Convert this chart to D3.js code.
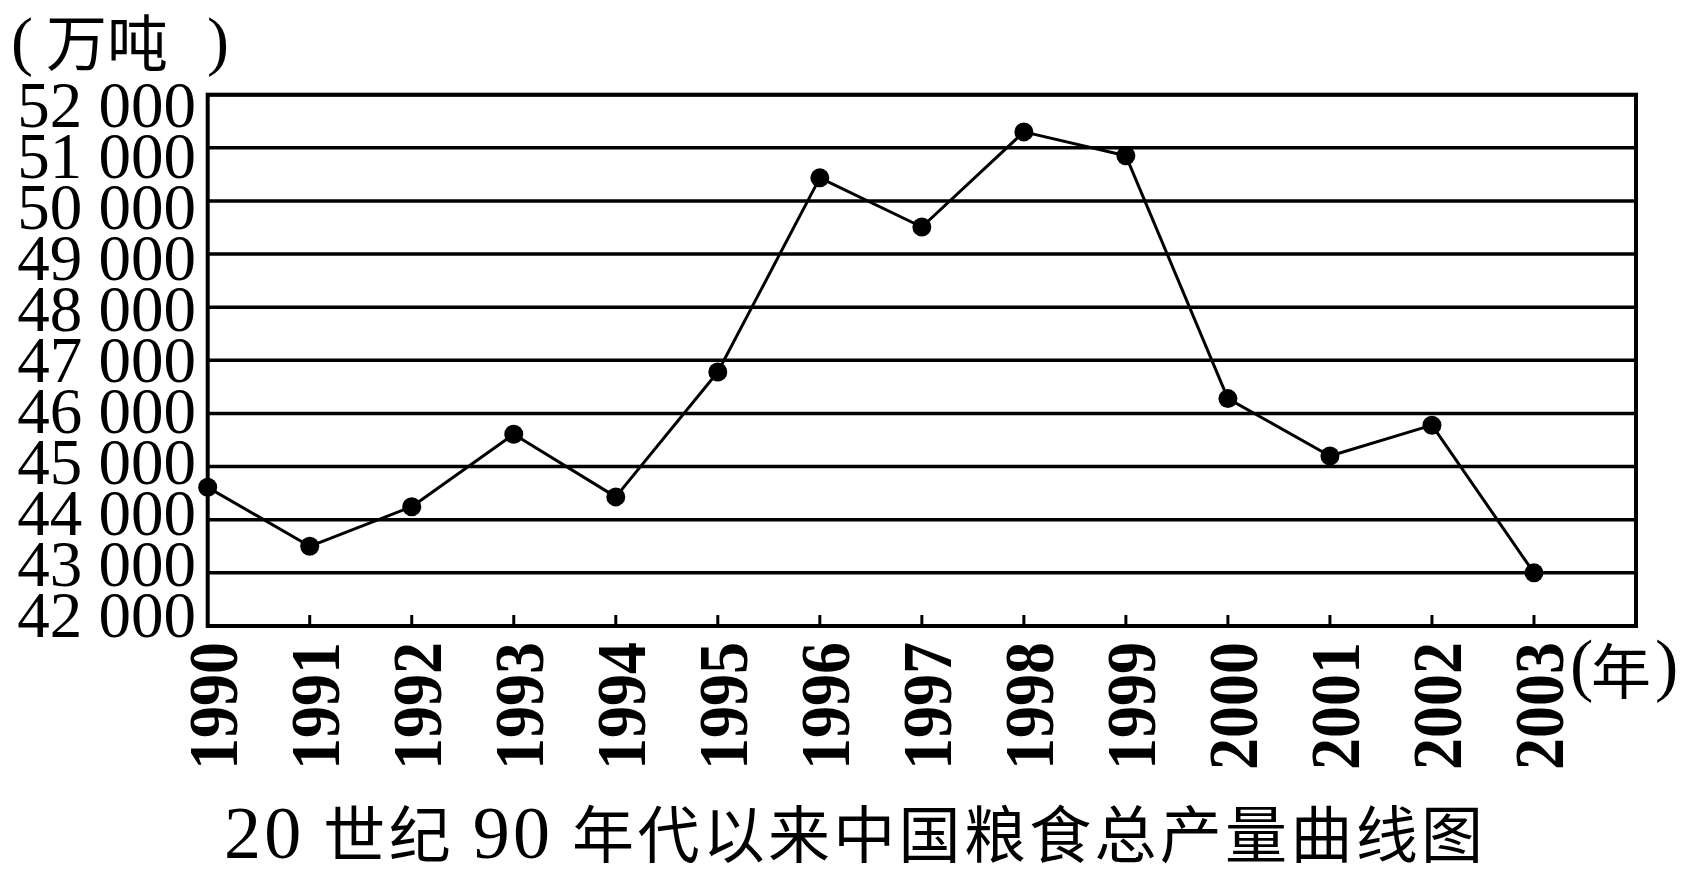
<!DOCTYPE html>
<html>
<head>
<meta charset="utf-8">
<script src="https://cdn.jsdelivr.net/npm/d3@7"></script>
<style>
  html, body { margin: 0; padding: 0; background: #fff; }
  svg { display: block; }
</style>
</head>
<body>
<svg id="chart"></svg>
<script>
// data
const years = [1990, 1991, 1992, 1993, 1994, 1995, 1996, 1997, 1998, 1999, 2000, 2001, 2002, 2003];
const output = [44610, 43500, 44245, 45610, 44430, 46780, 50435, 49510, 51300, 50850, 46280, 45200, 45780, 43000];
const yTicks = [42000, 43000, 44000, 45000, 46000, 47000, 48000, 49000, 50000, 51000, 52000];
const yTickLabels = ["42 000", "43 000", "44 000", "45 000", "46 000", "47 000", "48 000", "49 000", "50 000", "51 000", "52 000"];
const yearLabels = ["1990", "1991", "1992", "1993", "1994", "1995", "1996", "1997", "1998", "1999", "2000", "2001", "2002", "2003"];
const unitText = "万吨";
const yearUnitText = "年";
// title split so the numbers can be set a bit taller, like the original
const titleParts = ["20", " 世纪 ", "90", " 年代以来中国粮食总产量曲线图"];

const width = 1687;
const height = 874;
const plot = { left: 207.7, right: 1636, top: 94.7, bottom: 626 };
const serif = "'Liberation Serif', 'Noto Sans CJK SC', serif";
const cjk = "'Noto Sans CJK SC', sans-serif";

const svg = d3.select("#chart")
  .attr("width", width)
  .attr("height", height)
  .style("background", "#fff");

const x = d3.scaleLinear().domain([1990, 2004]).range([plot.left, plot.right]);
const y = d3.scaleLinear().domain([42000, 52000]).range([plot.bottom, plot.top]);
// the tick labels are stacked a bit tighter than the gridlines
const yLabel = d3.scaleLinear().domain([42000, 52000]).range([614.5, 105]);

// gridlines
svg.append("g").attr("class", "grid")
  .selectAll("line")
  .data(yTicks.slice(1))
  .enter()
  .append("line")
  .attr("x1", plot.left)
  .attr("x2", plot.right)
  .attr("y1", d => y(d))
  .attr("y2", d => y(d))
  .attr("stroke", "#000")
  .attr("stroke-width", 3.5);

// frame
svg.append("rect")
  .attr("x", plot.left)
  .attr("y", plot.top)
  .attr("width", plot.right - plot.left)
  .attr("height", plot.bottom - plot.top)
  .attr("fill", "none")
  .attr("stroke", "#000")
  .attr("stroke-width", 4);

// small ticks on the bottom axis
svg.append("g").attr("class", "ticks")
  .selectAll("line")
  .data(years.slice(1))
  .enter()
  .append("line")
  .attr("x1", d => x(d))
  .attr("x2", d => x(d))
  .attr("y1", plot.bottom)
  .attr("y2", plot.bottom - 11)
  .attr("stroke", "#000")
  .attr("stroke-width", 3);

// y labels
svg.append("g").attr("class", "ylabels")
  .selectAll("text")
  .data(yTicks)
  .enter()
  .append("text")
  .attr("x", 196)
  .attr("y", d => yLabel(d) + 22)
  .attr("text-anchor", "end")
  .style("font-family", serif)
  .style("font-size", "65px")
  .text((d, i) => yTickLabels[i]);

// x labels, rotated
svg.append("g").attr("class", "xlabels")
  .selectAll("text")
  .data(years)
  .enter()
  .append("text")
  .attr("transform", d => "translate(" + (x(d) + 5) + "," + 642 + ") rotate(-90)")
  .attr("dy", "0.34em")
  .attr("text-anchor", "end")
  .attr("textLength", 128)
  .attr("lengthAdjust", "spacingAndGlyphs")
  .style("font-family", serif)
  .style("font-size", "70px")
  .style("font-weight", "bold")
  .text((d, i) => yearLabels[i]);

// data line + dots
const line = d3.line()
  .x((d, i) => x(years[i]))
  .y(d => y(d));

svg.append("path")
  .datum(output)
  .attr("d", line)
  .attr("fill", "none")
  .attr("stroke", "#000")
  .attr("stroke-width", 3)
  .attr("stroke-linejoin", "round");

svg.append("g").attr("class", "dots")
  .selectAll("circle")
  .data(output)
  .enter()
  .append("circle")
  .attr("cx", (d, i) => x(years[i]))
  .attr("cy", d => y(d))
  .attr("r", 9.5)
  .attr("fill", "#000");

// unit label top-left
const unit = svg.append("g").attr("class", "unit");
unit.append("text").attr("x", 11).attr("y", 63)
  .style("font-family", serif).style("font-size", "66px").text("(");
unit.append("text").attr("x", 46).attr("y", 66)
  .style("font-family", cjk).style("font-size", "61px").text(unitText);
unit.append("text").attr("x", 207).attr("y", 63)
  .style("font-family", serif).style("font-size", "66px").text(")");

// year unit after the last label
const yu = svg.append("g").attr("class", "year-unit");
yu.append("text").attr("x", 1570).attr("y", 688)
  .style("font-family", serif).style("font-size", "70px").text("(");
yu.append("text").attr("x", 1591).attr("y", 694)
  .style("font-family", cjk).style("font-size", "60px").text(yearUnitText);
yu.append("text").attr("x", 1655).attr("y", 688)
  .style("font-family", serif).style("font-size", "70px").text(")");

// title
svg.append("text")
  .attr("x", 853.5)
  .attr("y", 858)
  .attr("text-anchor", "middle")
  .attr("textLength", 1259)
  .attr("lengthAdjust", "spacing")
  .style("font-family", serif)
  .style("font-size", "62px")
  .selectAll("tspan")
  .data(titleParts)
  .enter()
  .append("tspan")
  .style("font-size", (d, i) => i % 2 === 0 ? "74px" : null)
  .text(d => d);
</script>
</body>
</html>
